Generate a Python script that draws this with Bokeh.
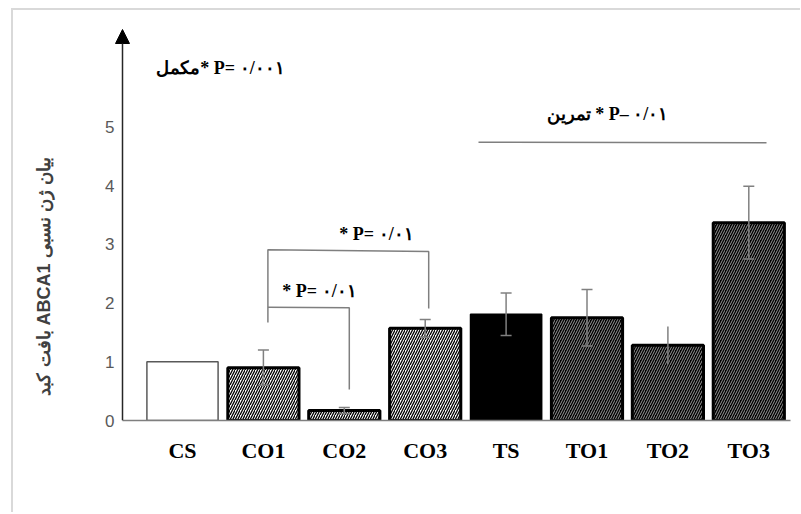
from bokeh.plotting import figure
from bokeh.models import (ColumnDataSource, Whisker, TeeHead, Label, Arrow, NormalHead,
                          FixedTicker, Title)
from bokeh.embed import file_html
from bokeh.resources import INLINE

# ---- data ----
groups = ["CS", "CO1", "CO2", "CO3", "TS", "TO1", "TO2", "TO3"]
means = [1.00, 0.90, 0.17, 1.57, 1.81, 1.75, 1.28, 3.37]
errors = [0.0, 0.30, 0.05, 0.15, 0.36, 0.48, 0.32, 0.62]
y_ticks = [0, 1, 2, 3, 4, 5]

y_title = "بیان ژن نسبی ABCA1 بافت کبد"
note_supp = "مکمل* P= ۰/۰۰۱"
note_train = "تمرین * P– ۰/۰۱"
note_pair = "* P= ۰/۰۱"

# ---- geometry (page pixels) ----
W, H = 800, 512
PX_X = 80.9      # pixels per category step
PX_Y = 58.7      # pixels per unit
frame_left, frame_right = 114, 792
frame_top, frame_bottom = 0, 420
cs_center = 182

def dx(px):
    return 1 + (px - cs_center) / PX_X

def dy(py):
    return (frame_bottom - py) / PX_Y

xs = list(range(1, len(groups) + 1))

p = figure(width=W, height=H, x_range=(dx(frame_left), dx(frame_right)),
           y_range=(0, dy(frame_top)), output_backend="svg", toolbar_location=None,
           min_border_left=frame_left, min_border_right=W - frame_right,
           min_border_top=frame_top, min_border_bottom=H - frame_bottom,
           styles={"background": "linear-gradient(#d9d9d9, #d9d9d9) 11px 8px / 2px 900px no-repeat, "
                                 "linear-gradient(#d9d9d9, #d9d9d9) 11px 8px / 1200px 2px no-repeat, "
                                 "#ffffff"})
p.xgrid.visible = False
p.ygrid.visible = False
p.outline_line_color = None
p.background_fill_color = None
p.border_fill_color = None

# y axis (labels; line drawn as arrow)
p.yaxis.ticker = FixedTicker(ticks=y_ticks)
p.yaxis.axis_line_color = None
p.yaxis.major_tick_line_color = None
p.yaxis.major_tick_out = 0
p.yaxis.major_tick_in = 0
p.yaxis.minor_tick_line_color = None
p.yaxis.major_label_standoff = 0
p.yaxis.major_label_text_font = "Liberation Sans"
p.yaxis.major_label_text_font_size = "17px"
p.yaxis.major_label_text_color = "#595959"

# y title (right-to-left paragraph); blank second line keeps it away from the ticks
p.add_layout(Title(text="\u202b" + y_title + "\u202c\n\u00a0", align="left", offset=25,
                   standoff=58,
                   text_font="Liberation Sans", text_font_style="bold",
                   text_font_size="18px", text_color="#404040"), "left")

# x axis
p.xaxis.ticker = FixedTicker(ticks=xs)
p.xaxis.major_label_overrides = {x: g for x, g in zip(xs, groups)}
p.xaxis.bounds = (dx(122), dx(790))
p.xaxis.axis_line_color = "#7f7f7f"
p.xaxis.axis_line_width = 1.5
p.xaxis.major_tick_line_color = None
p.xaxis.major_tick_out = 0
p.xaxis.minor_tick_line_color = None
p.xaxis.major_label_standoff = 17
p.xaxis.major_label_text_font = "Liberation Serif"
p.xaxis.major_label_text_font_style = "bold"
p.xaxis.major_label_text_font_size = "22px"
p.xaxis.major_label_text_color = "black"

# bar styles by group kind
style = {
    "CS": dict(fill="white", line="#595959", lw=1.5, hatch=" ", hcol="black", hw=1),
    "CO": dict(fill="white", line="black", lw=3, hatch="/", hcol="black", hw=1.3),
    "TS": dict(fill="black", line="black", lw=1.5, hatch=" ", hcol="black", hw=1),
    "TO": dict(fill="black", line="black", lw=3, hatch="/", hcol="#a8a8a8", hw=0.9),
}
kind = [g if g in ("CS", "TS") else g[:2] for g in groups]
src = ColumnDataSource(dict(
    x=xs, top=means,
    fill=[style[k]["fill"] for k in kind],
    line=[style[k]["line"] for k in kind],
    lw=[style[k]["lw"] for k in kind],
    hatch=[style[k]["hatch"] for k in kind],
    hcol=[style[k]["hcol"] for k in kind],
    hw=[style[k]["hw"] for k in kind],
))
p.vbar(x="x", top="top", bottom=0, width=0.88, source=src,
       fill_color="fill", line_color="line", line_width="lw",
       hatch_pattern="hatch", hatch_color="hcol", hatch_scale=5, hatch_weight="hw")

# error bars
cap_x, cap_lo, cap_hi = [], [], []
nc_x, nc_lo, nc_hi = [], [], []
for x, g, m, e in zip(xs, groups, means, errors):
    if e <= 0:
        continue
    if g == "TO2":
        nc_x.append(x); nc_lo.append(m - e); nc_hi.append(m + e)
    else:
        cap_x.append(x); cap_lo.append(m - e); cap_hi.append(m + e)
esrc = ColumnDataSource(dict(x=cap_x, lo=cap_lo, hi=cap_hi))
p.add_layout(Whisker(source=esrc, base="x", lower="lo", upper="hi",
                     line_color="#808080", line_width=1.5, level="overlay",
                     upper_head=TeeHead(size=11, line_color="#808080", line_width=1.5),
                     lower_head=TeeHead(size=11, line_color="#808080", line_width=1.5)))
nsrc = ColumnDataSource(dict(x=nc_x, lo=nc_lo, hi=nc_hi))
p.add_layout(Whisker(source=nsrc, base="x", lower="lo", upper="hi",
                     line_color="#808080", line_width=1.5, level="overlay",
                     upper_head=None, lower_head=None))

# y axis line with arrow
p.add_layout(Arrow(x_start=dx(122), y_start=0, x_end=dx(122), y_end=dy(29),
                   line_color="#262626", line_width=1.5,
                   end=NormalHead(size=14, fill_color="black", line_color="black", line_width=1)))

# significance brackets
gray = "#7f7f7f"
xl = 2 + 4.5 / PX_X
xr = 4 + 3.5 / PX_X
xm = 3 + 5 / PX_X
p.line([xl, xl, xr, xr], [1.67, 2.91, 2.88, 1.91], line_color=gray, line_width=1.5)
p.line([xl, xm, xm], [1.93, 1.92, 0.53], line_color=gray, line_width=1.5)
p.line([dx(478), dx(766)], [4.74, 4.73], line_color=gray, line_width=1.5)

def note(txt, cx, cy, size="18px"):
    p.add_layout(Label(x=cx, y=cy, text=txt, text_align="center", text_baseline="middle",
                       text_font="Liberation Serif", text_font_style="bold",
                       text_font_size=size, text_color="black"))

note(note_supp, dx(220), dy(67))
note(note_train, dx(607), dy(113))
note(note_pair, dx(376), dy(233))
note(note_pair, dx(319), dy(290))

open("out.html", "w").write(file_html(p, INLINE))
